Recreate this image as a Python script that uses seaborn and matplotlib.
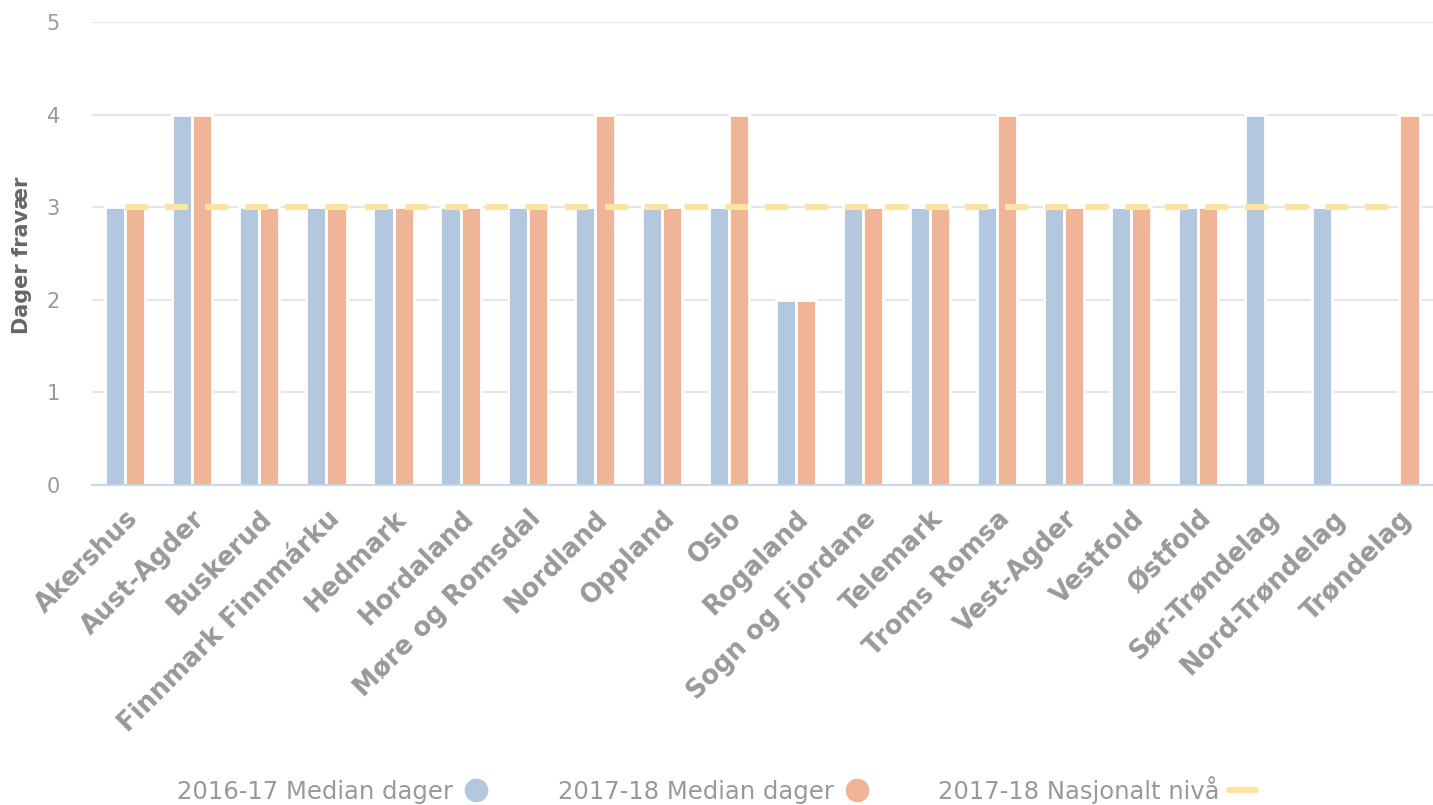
import numpy as np
import pandas as pd
import matplotlib
matplotlib.use("Agg")
import matplotlib.pyplot as plt
from matplotlib.lines import Line2D
import seaborn as sns

categories = ["Akershus", "Aust-Agder", "Buskerud", "Finnmark Finnmárku", "Hedmark",
              "Hordaland", "Møre og Romsdal", "Nordland", "Oppland", "Oslo", "Rogaland",
              "Sogn og Fjordane", "Telemark", "Troms Romsa", "Vest-Agder", "Vestfold",
              "Østfold", "Sør-Trøndelag", "Nord-Trøndelag", "Trøndelag"]
median_2016_17 = [3, 4, 3, 3, 3, 3, 3, 3, 3, 3, 2, 3, 3, 3, 3, 3, 3, 4, 3, np.nan]
median_2017_18 = [3, 4, 3, 3, 3, 3, 3, 4, 3, 4, 2, 3, 3, 4, 3, 3, 3, np.nan, np.nan, 4]
national_2017_18 = [3] * 20
series_names = ["2016-17 Median dager", "2017-18 Median dager", "2017-18 Nasjonalt nivå"]
y_ticks = [0, 1, 2, 3, 4, 5]

BLUE = "#b3c8de"
ORANGE = "#f0b496"
YELLOW = "#fce5a2"
TXT = "#999999"

sns.set_theme(style="white")
plt.rcParams['font.family'] = ['DejaVu Sans']

df = pd.DataFrame({
    "Fylke": categories * 2,
    "Verdi": median_2016_17 + median_2017_18,
    "Serie": [series_names[0]] * len(categories) + [series_names[1]] * len(categories),
})

fig = plt.figure(figsize=(14.33, 8.05), dpi=100)
ax = fig.add_axes([0.064, 0.3975, 0.936, 0.5752])

sns.barplot(data=df, x="Fylke", y="Verdi", hue="Serie", order=categories,
            hue_order=series_names[:2], palette=[BLUE, ORANGE], width=0.6,
            edgecolor="white", linewidth=2, errorbar=None, ax=ax, legend=False,
            saturation=1)

ax.plot(np.arange(len(categories)), national_2017_18, color=YELLOW, lw=4.5,
        dashes=(3.7, 2.7), zorder=5, solid_capstyle="butt", dash_capstyle="butt")

ax.set_ylim(0, 5)
ax.set_xlim(-0.5, len(categories) - 0.5)
ax.set_yticks(y_ticks)
ax.yaxis.grid(True, color="#e6e6e6", lw=1.5)
ax.set_axisbelow(True)
for s in ["top", "right", "left"]:
    ax.spines[s].set_visible(False)
ax.spines["bottom"].set_color("#ccd6eb")
ax.spines["bottom"].set_linewidth(1.5)
ax.tick_params(axis="both", length=0)
ax.tick_params(axis="y", labelsize=15, labelcolor=TXT, pad=23)
ax.set_xlabel("")
ax.set_ylabel("")
ax.set_xticks(np.arange(len(categories)))
ax.set_xticklabels(categories, rotation=45, ha="right", va="top", rotation_mode="anchor",
                   fontsize=18.5, color=TXT, fontweight="bold")
ax.tick_params(axis="x", pad=15)
fig.text(22 / 1433, 1 - 255 / 805, "Dager fravær", rotation=90, ha="center", va="center",
         fontsize=15, color="#666666", fontweight="bold")

handles = [
    Line2D([], [], marker="o", ls="none", markersize=16, markerfacecolor=BLUE, markeredgecolor=BLUE),
    Line2D([], [], marker="o", ls="none", markersize=16, markerfacecolor=ORANGE, markeredgecolor=ORANGE),
    Line2D([], [], color=YELLOW, lw=4.5),
]
leg = fig.legend(handles, series_names, loc="center", bbox_to_anchor=(0.5, 1 - 790 / 805),
                 ncol=3, frameon=False, markerfirst=False, handlelength=1.1,
                 columnspacing=2.8, handletextpad=0.4, prop={"size": 17.5})
for t in leg.get_texts():
    t.set_color(TXT)

fig.savefig("out.png", dpi=100)
